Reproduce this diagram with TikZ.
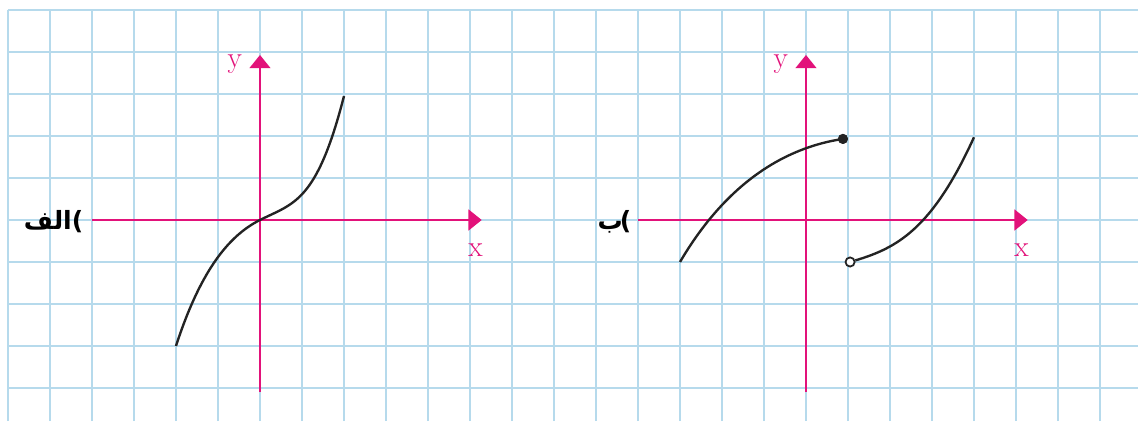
\documentclass[tikz,border=0pt]{standalone}
\usepackage{fontspec}
\newfontfamily\arabicfont[Script=Arabic]{DejaVu Sans}
\TeXXeTstate=1
\usetikzlibrary{arrows.meta}
\definecolor{axismag}{RGB}{226,18,122}
\definecolor{gridblue}{RGB}{182,218,236}
\definecolor{curvegray}{RGB}{35,35,35}

\begin{document}
\begin{tikzpicture}[
  axis/.style={axismag, line width=1.8pt, -{Triangle[length=9pt,width=14pt]}},
  curve/.style={curvegray, line width=1.6pt},
  axlabel/.style={text=axismag, font=\fontsize{20}{24}\selectfont, inner sep=0pt},
  partlabel/.style={font=\arabicfont\bfseries\fontsize{17}{20}\selectfont, inner sep=0pt, anchor=east},
  dot/.style={circle, fill=curvegray, inner sep=0pt, minimum size=6.8pt},
  hole/.style={circle, draw=curvegray, fill=white, line width=1.2pt, inner sep=0pt, minimum size=6.2pt}
]
  % Paper
  \useasboundingbox (-6.19,-4.786) rectangle (20.905,5.238);
  \fill[white] (-6.19,-4.786) rectangle (20.905,5.238);
  \draw[gridblue, line width=0.9pt, step=1] (-6,-4.786) grid (20.905,5);

  % Axes of both graphs
  \foreach \ox in {0,13} {
    \draw[axis] ({\ox-4},0) -- ({\ox+5.28},0);
    \draw[axis] (\ox,-4.1) -- (\ox,3.93);
    \node[axlabel] (x\ox) at ({\ox+5.13},-0.72) {x};
    \node[axlabel] (y\ox) at ({\ox-0.6},3.7) {y};
  }

  % Part labels
  \node[partlabel] (parta) at (-4.2,-0.05) {\beginR الف\endR)};
  \node[partlabel] (partb) at (8.85,-0.05) {\beginR ب\endR\kern-2pt)};

  % Graph a
  \coordinate (abot) at (-2,-3);
  \coordinate (aorig) at (0,0);
  \coordinate (atop) at (2,2.95);
  \draw[curve] (abot) .. controls (-1.45,-1.31) and (-0.8,-0.4) .. (aorig)
               .. controls (0.8,0.4) and (1.35,0.415) .. (atop);

  % Graph b
  \begin{scope}[xshift=13cm]
    \node[dot] (closedend) at (0.88,1.93) {};
    \node[hole] (openend) at (1.05,-1) {};
    \coordinate (bleft) at (-3,-1);
    \coordinate (bright) at (4,1.97);
    \draw[curve] (bleft) .. controls (-1.9,0.87) and (-0.52,1.72) .. (closedend.center);
    \draw[curve] (openend) .. controls (2.15,-0.67) and (3.0,-0.23) .. (bright);
    \node[dot] at (closedend) {};
  \end{scope}
\end{tikzpicture}
\end{document}
